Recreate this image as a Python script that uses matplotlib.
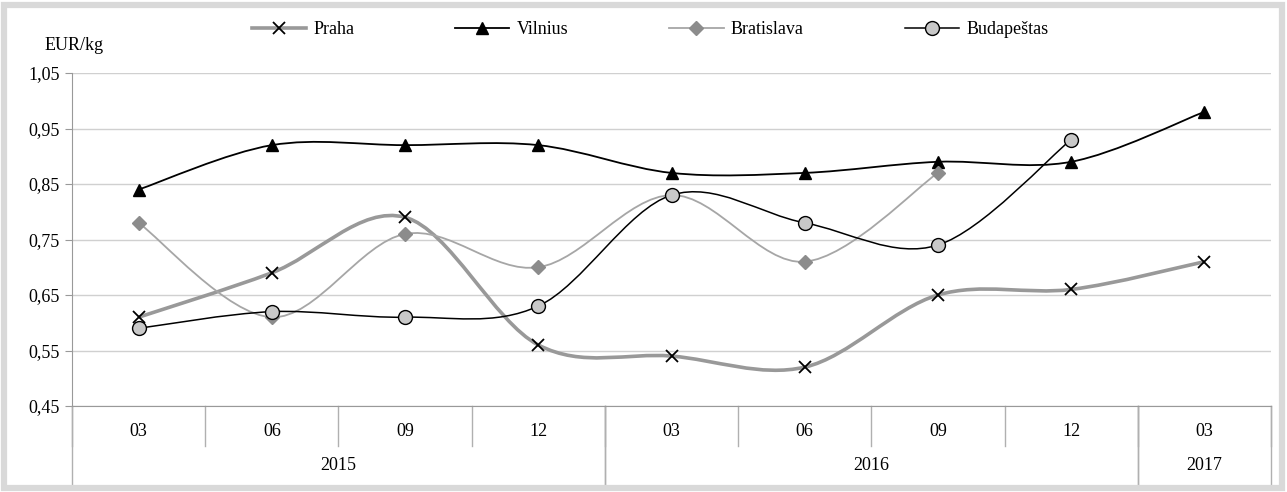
import numpy as np
import matplotlib
matplotlib.use("Agg")
import matplotlib.pyplot as plt
from matplotlib.path import Path
from matplotlib.patches import PathPatch, Rectangle
from matplotlib.lines import Line2D

plt.rcParams['font.family'] = ['Liberation Serif', 'DejaVu Serif']

months = ['03', '06', '09', '12', '03', '06', '09', '12', '03']
years = ['2015', '2016', '2017']
year_spans = [(0, 3), (4, 7), (8, 8)]   # first and last month index of each year

praha = [0.61, 0.69, 0.79, 0.56, 0.54, 0.52, 0.65, 0.66, 0.71]
vilnius = [0.84, 0.92, 0.92, 0.92, 0.87, 0.87, 0.89, 0.89, 0.98]
bratislava = [0.78, 0.61, 0.76, 0.70, 0.83, 0.71, 0.87]
budapestas = [0.59, 0.62, 0.61, 0.63, 0.83, 0.78, 0.74, 0.93]


def smooth_path(y):
    # Bezier path through the points, like Excel's "smoothed line"
    x = np.arange(len(y), dtype=float)
    y = np.asarray(y, dtype=float)
    n = len(y)
    verts = [(x[0], y[0])]
    codes = [Path.MOVETO]
    for i in range(n - 1):
        i0 = max(i - 1, 0)
        i3 = min(i + 2, n - 1)
        c1 = (x[i] + (x[i + 1] - x[i0]) / 6, y[i] + (y[i + 1] - y[i0]) / 6)
        c2 = (x[i + 1] - (x[i3] - x[i]) / 6, y[i + 1] - (y[i3] - y[i]) / 6)
        verts += [c1, c2, (x[i + 1], y[i + 1])]
        codes += [Path.CURVE4] * 3
    return Path(verts, codes)


fig = plt.figure(figsize=(12.87, 4.92), dpi=100)
ax = fig.add_axes([72 / 1287, 86 / 492, 1199 / 1287, 333 / 492])

series = [
    (praha, 'Praha', dict(color='#999999', lw=2.6), dict(marker='x', ms=8, mec='black', mew=1.3)),
    (vilnius, 'Vilnius', dict(color='black', lw=1.3), dict(marker='^', ms=8, mfc='black', mec='black')),
    (bratislava, 'Bratislava', dict(color='#a6a6a6', lw=1.3), dict(marker='D', ms=7, mfc='#8c8c8c', mec='#8c8c8c')),
    (budapestas, 'Budapeštas', dict(color='black', lw=1.1), dict(marker='o', ms=10, mfc='#c8c8c8', mec='black', mew=1.0)),
]

handles = []
for vals, name, lstyle, mstyle in series:
    ax.add_patch(PathPatch(smooth_path(vals), fill=False, ec=lstyle['color'], lw=lstyle['lw'], zorder=2))
    ax.plot(np.arange(len(vals)), vals, ls='none', zorder=3, **mstyle)
    handles.append(Line2D([], [], color=lstyle['color'], lw=lstyle['lw'], label=name, **mstyle))

ax.set_xlim(-0.5, 8.5)
ax.set_ylim(0.45, 1.05)
yt = np.arange(0.45, 1.051, 0.1)
ax.set_yticks(yt)
ax.set_yticklabels([f'{v:.2f}'.replace('.', ',') for v in yt], fontsize=13)
ax.yaxis.grid(True, color='#d0d0d0', lw=1)
ax.set_axisbelow(True)
ax.tick_params(axis='y', length=5, color='#999999', pad=4)
for s in ['top', 'right']:
    ax.spines[s].set_visible(False)
ax.spines['left'].set_color('#999999')
ax.spines['bottom'].set_color('#999999')

# two-level category axis
ax.set_xticks([])
trans = ax.get_xaxis_transform()
h = 333.0
for i, m in enumerate(months):
    ax.text(i, -26 / h, m, transform=trans, ha='center', va='center', fontsize=13)
for b in np.arange(-0.5, 9, 1):
    ax.plot([b, b], [0, -40 / h], transform=trans, color='#b0b0b0', lw=1, clip_on=False)
for yr, (a, b) in zip(years, year_spans):
    ax.text((a + b) / 2, -60 / h, yr, transform=trans, ha='center', va='center', fontsize=13)
    for e in (a - 0.5, b + 0.5):
        ax.plot([e, e], [0, -80 / h], transform=trans, color='#b0b0b0', lw=1, clip_on=False)

fig.text(45 / 1287, 1 - 45 / 492, 'EUR/kg', fontsize=13, ha='left', va='center')

fig.legend(handles=handles, loc='center', bbox_to_anchor=(650 / 1287, 1 - 30 / 492),
           ncol=4, frameon=False, fontsize=13, handlelength=3.0, columnspacing=5.6,
           handletextpad=0.4)

fig.patches.append(Rectangle((4 / 1287, 4 / 492), 1278 / 1287, 483 / 492, transform=fig.transFigure,
                             fill=False, ec='#d9d9d9', lw=4.5, zorder=10))

fig.savefig('out.png', dpi=100)
